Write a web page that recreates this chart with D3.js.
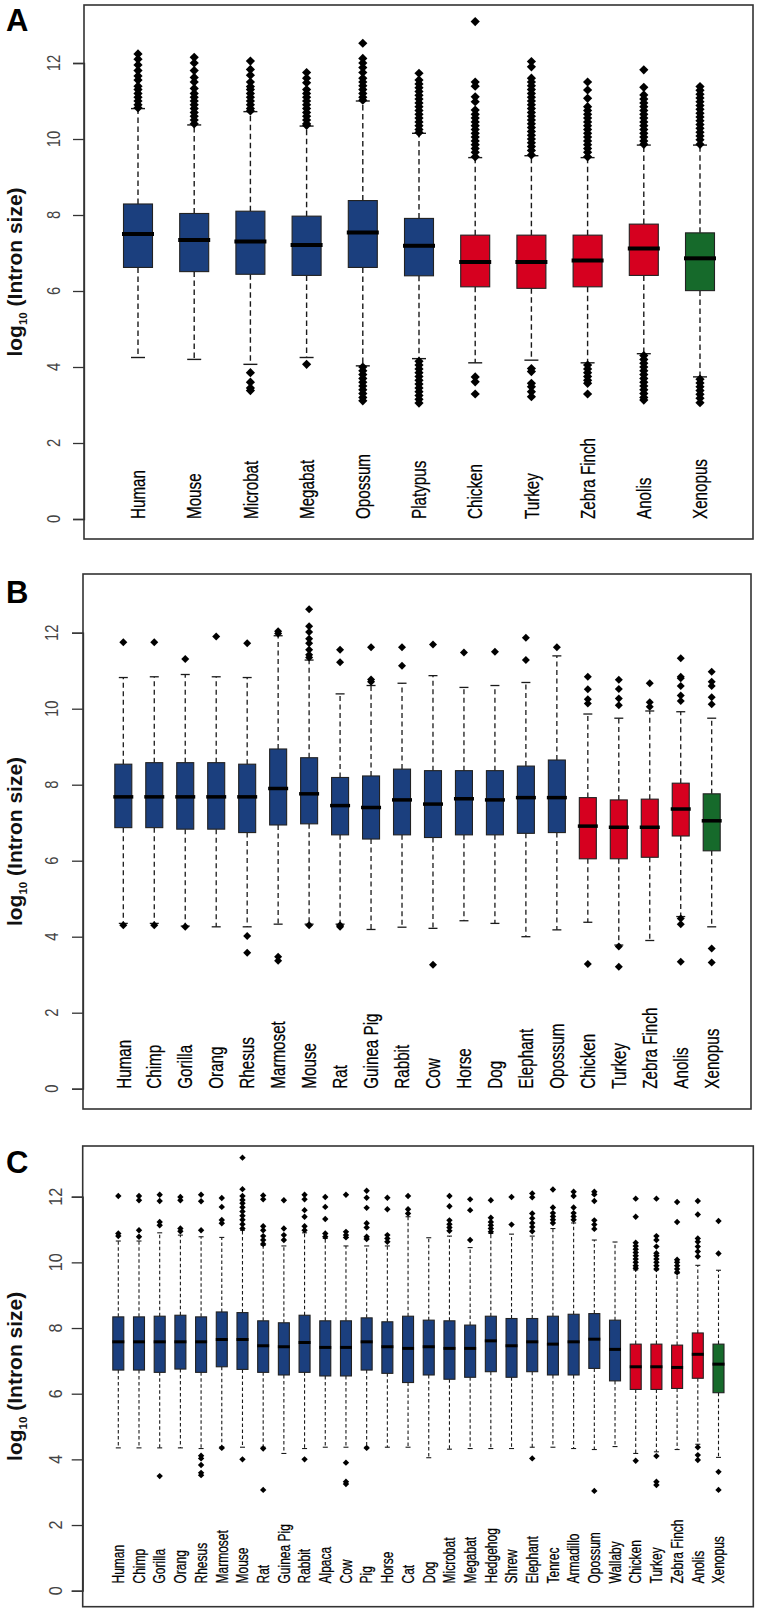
<!DOCTYPE html>
<html><head><meta charset="utf-8">
<script src="https://cdn.jsdelivr.net/npm/d3@7"></script>
<style>
body{margin:0;background:#fff}
svg{display:block}
text{font-family:"Liberation Sans",Arial,Helvetica,sans-serif}
</style>
</head><body>
<svg id="chart" width="760" height="1614"></svg>
<script>
// ---------- Panel A ----------
const catsA = ["Human","Mouse","Microbat","Megabat","Opossum","Platypus","Chicken","Turkey","Zebra Finch","Anolis","Xenopus"];
const groupA = ["m","m","m","m","m","m","b","b","b","r","a"];
const loA  = [4.25,4.2,4.07,4.25,4.03,4.22,4.11,4.18,4.11,4.35,3.74];
const q1A  = [6.62,6.51,6.44,6.41,6.62,6.40,6.11,6.07,6.11,6.41,6.01];
const medA = [7.5,7.34,7.3,7.21,7.54,7.19,6.76,6.76,6.8,7.12,6.86];
const q3A  = [8.29,8.04,8.1,7.97,8.38,7.91,7.47,7.47,7.47,7.76,7.53];
const hiA  = [10.8,10.37,10.72,10.34,11.0,10.15,9.51,9.56,9.51,9.84,9.84];
const outA = [
  [12.24,12.1,11.95,11.8,11.66,11.55,11.39,11.3,11.2,11.1,11.0,10.9,10.82],
  [12.15,12.0,11.8,11.62,11.5,11.33,11.2,11.1,11.0,10.9,10.8,10.7,10.6,10.5,10.4],
  [12.05,11.83,11.68,11.5,11.38,11.3,11.2,11.1,11.0,10.9,10.8,10.74,3.85,3.6,3.45,3.38],
  [11.75,11.6,11.48,11.3,11.2,11.1,11.0,10.9,10.8,10.7,10.6,10.5,10.4,10.36,4.07],
  [12.52,12.12,12.0,11.88,11.75,11.6,11.5,11.4,11.3,11.2,11.1,11.02,4.0,3.9,3.8,3.7,3.6,3.5,3.4,3.3,3.2,3.11],
  [11.73,11.55,11.45,11.35,11.25,11.15,11.05,10.95,10.85,10.75,10.65,10.55,10.45,10.35,10.25,10.17,4.15,4.05,3.95,3.85,3.75,3.65,3.55,3.45,3.35,3.25,3.15,3.05],
  [13.09,11.5,11.39,11.11,10.98,10.76,10.65,10.55,10.45,10.35,10.25,10.15,10.05,9.95,9.85,9.75,9.65,9.53,3.74,3.61,3.29],
  [12.04,11.9,11.6,11.5,11.4,11.3,11.2,11.1,11.0,10.9,10.8,10.7,10.6,10.5,10.4,10.3,10.2,10.1,10.0,9.9,9.8,9.7,9.58,3.96,3.88,3.57,3.48,3.35,3.22],
  [11.5,11.29,11.07,10.85,10.75,10.65,10.55,10.45,10.35,10.25,10.15,10.05,9.95,9.85,9.75,9.65,9.53,4.05,3.95,3.85,3.75,3.65,3.57,3.29],
  [11.82,11.36,11.16,11.05,10.95,10.85,10.75,10.65,10.55,10.45,10.35,10.25,10.15,10.05,9.95,9.86,4.3,4.2,4.1,4.0,3.9,3.8,3.7,3.6,3.5,3.4,3.3,3.2,3.13],
  [11.38,11.28,11.18,11.08,10.98,10.88,10.78,10.68,10.58,10.48,10.38,10.28,10.18,10.08,9.98,9.86,3.68,3.58,3.48,3.38,3.28,3.18,3.06]
];

// ---------- Panel B ----------
const catsB = ["Human","Chimp","Gorilla","Orang","Rhesus","Marmoset","Mouse","Rat","Guinea Pig","Rabbit","Cow","Horse","Dog","Elephant","Opossum","Chicken","Turkey","Zebra Finch","Anolis","Xenopus"];
const groupB = ["m","m","m","m","m","m","m","m","m","m","m","m","m","m","m","b","b","b","r","a"];
const loB  = [4.35,4.35,4.28,4.26,4.26,4.33,4.33,4.33,4.19,4.25,4.22,4.42,4.35,4.0,4.18,4.38,3.78,3.9,4.53,4.26];
const q1B  = [6.87,6.87,6.83,6.83,6.74,6.94,6.97,6.68,6.57,6.68,6.61,6.68,6.68,6.72,6.74,6.05,6.05,6.09,6.65,6.26];
const medB = [7.68,7.68,7.68,7.68,7.68,7.9,7.76,7.45,7.4,7.6,7.49,7.63,7.6,7.66,7.66,6.91,6.88,6.88,7.36,7.05];
const q3B  = [8.54,8.58,8.58,8.58,8.54,8.94,8.71,8.19,8.23,8.41,8.37,8.37,8.37,8.49,8.65,7.66,7.6,7.62,8.04,7.76];
const hiB  = [10.82,10.84,10.9,10.84,10.82,11.92,11.28,10.39,10.61,10.67,10.87,10.56,10.61,10.69,11.39,9.86,9.75,9.94,9.92,9.75];
const outB = [
  [11.75,4.3],[11.75,4.3],[11.31,4.26],[11.9],[11.72,4.02,3.58],
  [12.04,11.98,3.47,3.37],
  [12.62,12.17,12.02,11.84,11.72,11.55,11.42,11.35,4.3],
  [11.55,11.22,4.3,4.26],[11.62,10.77,10.71],[11.62,11.13],[11.69,3.26],
  [11.48],[11.5],[11.87,11.28],[11.62],
  [10.84,10.51,10.25,10.14,3.28],
  [10.76,10.52,10.27,10.09,3.74,3.21],
  [10.67,10.17,10.05],
  [11.33,10.84,10.8,10.6,10.35,10.2,4.48,4.33,3.34],
  [10.97,10.71,10.6,10.3,10.12,3.69,3.32]
];

// ---------- Panel C ----------
const catsC = ["Human","Chimp","Gorilla","Orang","Rhesus","Marmoset","Mouse","Rat","Guinea Pig","Rabbit","Alpaca","Cow","Pig","Horse","Cat","Dog","Microbat","Megabat","Hedgehog","Shrew","Elephant","Tenrec","Armadillo","Opossum","Wallaby","Chicken","Turkey","Zebra Finch","Anolis","Xenopus"];
const groupC = ["m","m","m","m","m","m","m","m","m","m","m","m","m","m","m","m","m","m","m","m","m","m","m","m","m","b","b","b","r","a"];
const loC  = [4.35,4.35,4.35,4.35,4.33,4.38,4.37,4.37,4.18,4.33,4.37,4.37,4.37,4.37,4.37,4.05,4.31,4.33,4.33,4.33,4.37,4.37,4.33,4.3,4.39,4.18,4.23,4.3,4.46,4.06];
const q1C  = [6.72,6.72,6.65,6.75,6.65,6.82,6.74,6.65,6.57,6.65,6.54,6.54,6.72,6.62,6.34,6.57,6.44,6.5,6.67,6.5,6.67,6.57,6.57,6.77,6.39,6.13,6.13,6.16,6.47,6.03];
const medC = [7.58,7.58,7.58,7.58,7.58,7.65,7.65,7.46,7.43,7.56,7.41,7.41,7.58,7.43,7.38,7.43,7.38,7.38,7.61,7.46,7.58,7.51,7.58,7.66,7.35,6.82,6.82,6.8,7.2,6.9];
const q3C  = [8.34,8.34,8.36,8.39,8.34,8.49,8.47,8.22,8.16,8.39,8.22,8.22,8.31,8.19,8.36,8.24,8.22,8.09,8.36,8.29,8.29,8.36,8.42,8.44,8.24,7.51,7.51,7.48,7.85,7.51];
const hiC  = [10.65,10.65,10.9,10.83,10.78,10.76,10.98,10.52,10.5,10.9,10.73,10.5,10.5,10.5,11.39,10.75,10.8,10.45,10.88,10.86,10.8,11.03,11.2,10.68,10.62,9.77,9.77,9.66,9.91,9.76];
const outC = [
  [12.02,10.88,10.8],
  [12.02,11.89,10.98,10.78],
  [12.06,11.87,11.23,11.13,3.49],
  [11.99,11.89,11.03,10.95],
  [12.06,11.86,10.98,4.11,4.03,3.83,3.59,3.52],
  [11.96,11.69,11.29,11.19,4.35],
  [13.19,12.23,12.02,11.9,11.8,11.68,11.55,11.42,11.3,11.16,11.03,4.0],
  [12.04,11.92,11.1,10.98,10.8,10.68,10.56,4.33,3.07],
  [11.89,11.03,10.83,10.68],
  [12.06,11.92,11.59,11.39,11.1,10.98,4.0],
  [11.99,11.69,11.32,10.88,10.78],
  [12.06,10.93,10.83,10.76,3.9,3.32,3.25],
  [12.18,11.97,11.66,11.19,11.06,10.78,10.71,4.35],
  [11.97,11.62,10.83,10.73,10.63],
  [12.02,11.62,11.49],
  [],
  [12.02,11.71,11.28,11.16,11.06,10.96],
  [11.92,11.59,10.68],
  [11.89,11.36,11.23,11.13,11.03,10.93],
  [11.99,11.15],
  [12.1,11.98,11.49,11.34,11.2,11.08,10.95,4.03],
  [12.22,11.67,11.5,11.4,11.3,11.2],
  [12.15,12.02,11.67,11.5,11.4,11.3],
  [12.15,12.07,11.87,11.28,11.15,11.02,3.04],
  [],
  [11.94,11.39,10.6,10.5,10.4,10.3,10.2,10.1,10.0,9.9,9.82,3.96],
  [11.94,10.8,10.68,10.48,10.28,10.2,10.1,10.0,9.9,9.8,4.1,3.32,3.22],
  [11.84,11.23,10.08,10.0,9.9,9.8,9.7],
  [11.87,11.46,10.73,10.63,10.48,10.33,10.18,4.37,4.13,3.98],
  [11.26,10.27,3.62,3.07]
];

const yTicks = [0,2,4,6,8,10,12];
const panelLetters = ["A","B","C"];
const colors = {m:"#1b3f7e", b:"#d6001f", r:"#d6001f", a:"#166a2b"};

const svg = d3.select("#chart");

function drawPanel(cfg){
  const {cats, group, lo, q1, med, q3, hi, out, L} = cfg;
  const g = svg.append("g");
  const x = d3.scalePoint().domain(cats).range([L.xFirst, L.xLast]);
  const y = d3.scaleLinear().domain([0,12]).range([L.y0, L.y12]);

  // frame
  g.append("rect").attr("x",L.fx0).attr("y",L.fy0)
   .attr("width",L.fx1-L.fx0).attr("height",L.fy1-L.fy0)
   .attr("fill","none").attr("stroke","#333").attr("stroke-width",1.6);

  // y axis
  const axis = d3.axisLeft(y).tickValues(yTicks).tickSize(11).tickPadding(3).tickFormat(d3.format("d"));
  const ag = g.append("g").attr("transform",`translate(${L.fx0},0)`).call(axis);
  ag.select(".domain").attr("stroke","#333").attr("stroke-width",1.3);
  ag.selectAll(".tick line").attr("stroke","#333").attr("stroke-width",1.3);
  ag.selectAll(".tick text").remove();
  g.selectAll("text.ytl").data(yTicks).join("text").attr("class","ytl")
   .attr("transform",d=>`translate(${L.tlx},${y(d)}) rotate(-90) scale(${L.tls},1)`)
   .attr("text-anchor","middle").attr("font-size",L.tlf).attr("fill","#444").text(d=>d);

  // y title
  const t = g.append("text")
   .attr("transform",`translate(${L.titleX},${(L.fy0+L.fy1)/2}) rotate(-90)`)
   .attr("text-anchor","middle").attr("font-weight","bold").attr("font-size",L.titleF).attr("fill","#111");
  t.append("tspan").text("log");
  t.append("tspan").attr("font-size",L.titleF*0.55).attr("dy",L.titleF*0.22).text("10");
  t.append("tspan").attr("dy",-L.titleF*0.22).text(" (Intron size)");

  // panel letter
  g.append("text").attr("x",L.letX).attr("y",L.letY).attr("font-weight","bold")
   .attr("font-size",31).attr("fill","#000").text(L.letter);

  const idx = d3.range(cats.length);
  const bw = L.bw, cw = L.cw;

  // whiskers (dashed)
  g.selectAll("line.wu").data(idx).join("line").attr("class","wu")
   .attr("x1",i=>x(cats[i])).attr("x2",i=>x(cats[i]))
   .attr("y1",i=>y(q3[i])).attr("y2",i=>y(hi[i]))
   .attr("stroke","#1a1a1a").attr("stroke-width",L.ww).attr("stroke-dasharray",L.dash);
  g.selectAll("line.wl").data(idx).join("line").attr("class","wl")
   .attr("x1",i=>x(cats[i])).attr("x2",i=>x(cats[i]))
   .attr("y1",i=>y(q1[i])).attr("y2",i=>y(lo[i]))
   .attr("stroke","#1a1a1a").attr("stroke-width",L.ww).attr("stroke-dasharray",L.dash);
  // caps
  g.selectAll("line.cu").data(idx).join("line").attr("class","cu")
   .attr("x1",i=>x(cats[i])-cw/2).attr("x2",i=>x(cats[i])+cw/2)
   .attr("y1",i=>y(hi[i])).attr("y2",i=>y(hi[i]))
   .attr("stroke","#1a1a1a").attr("stroke-width",L.ww);
  g.selectAll("line.cl").data(idx).join("line").attr("class","cl")
   .attr("x1",i=>x(cats[i])-cw/2).attr("x2",i=>x(cats[i])+cw/2)
   .attr("y1",i=>y(lo[i])).attr("y2",i=>y(lo[i]))
   .attr("stroke","#1a1a1a").attr("stroke-width",L.ww);
  // boxes
  g.selectAll("rect.box").data(idx).join("rect").attr("class","box")
   .attr("x",i=>x(cats[i])-bw/2).attr("width",bw)
   .attr("y",i=>y(q3[i])).attr("height",i=>y(q1[i])-y(q3[i]))
   .attr("fill",i=>colors[group[i]]).attr("stroke","#222").attr("stroke-width",1.1);
  // medians
  g.selectAll("line.med").data(idx).join("line").attr("class","med")
   .attr("x1",i=>x(cats[i])-bw/2-L.mx).attr("x2",i=>x(cats[i])+bw/2+L.mx)
   .attr("y1",i=>y(med[i])).attr("y2",i=>y(med[i]))
   .attr("stroke","#000").attr("stroke-width",L.mw);
  // outliers
  const pts = [];
  out.forEach((arr,i)=>arr.forEach(v=>pts.push({c:cats[i],v})));
  const r = L.dr;
  g.selectAll("path.out").data(pts).join("path").attr("class","out")
   .attr("transform",d=>`translate(${x(d.c)},${y(d.v)})`)
   .attr("d",`M0,${-r}L${r},0L0,${r}L${-r},0Z`).attr("fill","#000");
  // category labels
  g.selectAll("text.cat").data(cats).join("text").attr("class","cat")
   .attr("transform",d=>`translate(${x(d)},${y(L.labV)}) rotate(-90) scale(${L.ls},1)`)
   .attr("dy","0.36em").attr("text-anchor","start")
   .attr("font-size",L.lf).attr("fill","#000")
   .attr("stroke","#000").attr("stroke-width",0.25).text(d=>d);
}

drawPanel({cats:catsA, group:groupA, lo:loA, q1:q1A, med:medA, q3:q3A, hi:hiA, out:outA,
  L:{fx0:84,fx1:753,fy0:5,fy1:539,y0:519,y12:63,xFirst:138,xLast:700,
     bw:29,cw:14,mw:4,mx:1.5,dr:4.6,ww:1.4,dash:"5.5,3.5",
     tlx:60,tls:0.78,tlf:19,titleX:22,titleF:21,letX:6,letY:31,letter:panelLetters[0],
     labV:0,lf:20,ls:0.76}});
drawPanel({cats:catsB, group:groupB, lo:loB, q1:q1B, med:medB, q3:q3B, hi:hiB, out:outB,
  L:{fx0:83,fx1:751,fy0:574,fy1:1109,y0:1088.7,y12:632.7,xFirst:123.3,xLast:711.7,
     bw:17,cw:9,mw:3.5,mx:1.5,dr:4,ww:1.3,dash:"5,3.5",
     tlx:58,tls:0.78,tlf:19,titleX:22,titleF:21,letX:6,letY:603,letter:panelLetters[1],
     labV:0,lf:20,ls:0.76}});
drawPanel({cats:catsC, group:groupC, lo:loC, q1:q1C, med:medC, q3:q3C, hi:hiC, out:outC,
  L:{fx0:82.7,fx1:753.3,fy0:1146,fy1:1606.7,y0:1590.7,y12:1196.7,xFirst:118.3,xLast:718.5,
     bw:11,cw:5,mw:3,mx:0.5,dr:3.2,ww:1.1,dash:"3.5,2.5",
     tlx:62,tls:0.85,tlf:19,titleX:22,titleF:21,letX:6,letY:1173,letter:panelLetters[2],
     labV:0.22,lf:16,ls:0.75}});
</script>
</body></html>
